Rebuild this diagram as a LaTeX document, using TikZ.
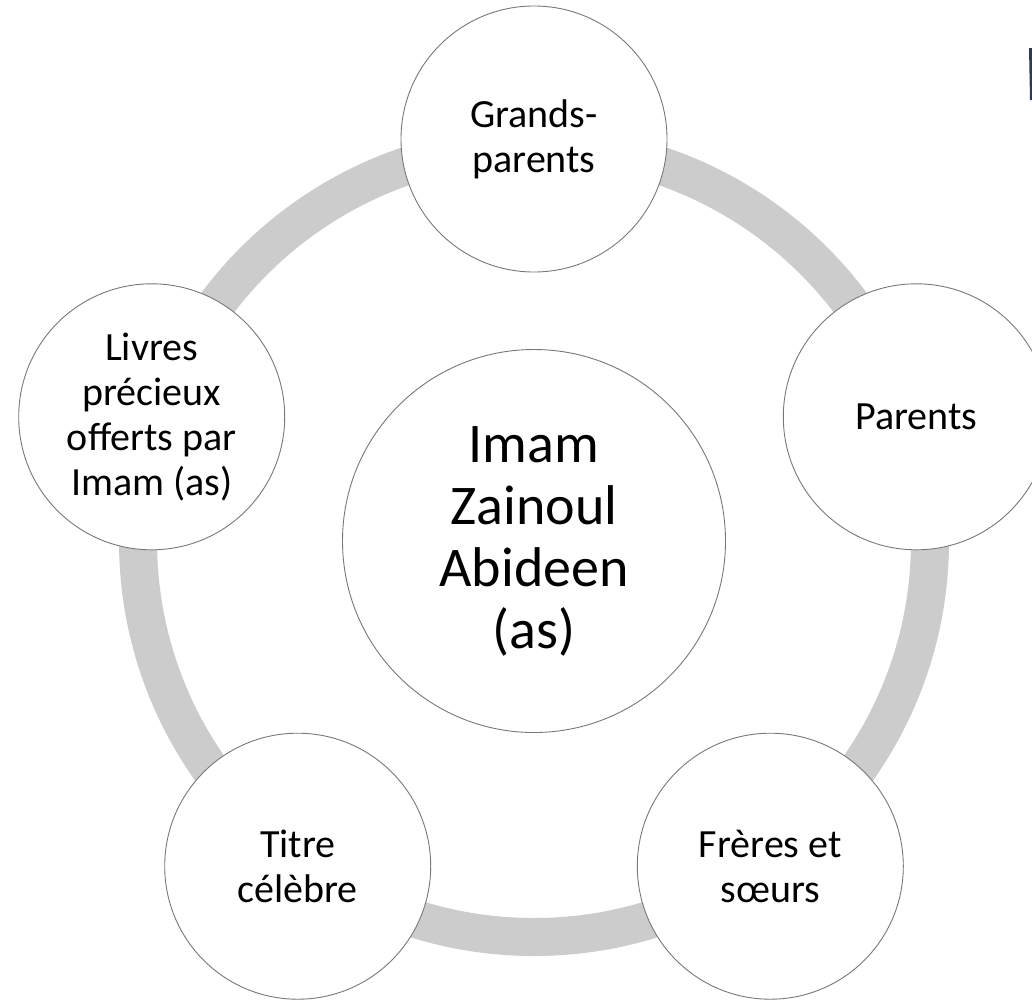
\documentclass[tikz,border=0pt]{standalone}
\usepackage{fontspec}
\setmainfont{Carlito}
\definecolor{ringgray}{RGB}{204,204,204}
\definecolor{edgegray}{RGB}{120,120,120}
\definecolor{slate}{RGB}{46,58,78}
\tikzset{
  ring/.style={draw=ringgray, line width=38pt},
  bubble/.style={circle, draw=edgegray, line width=0.9pt, fill=white, inner sep=0pt,
    minimum size=266pt, align=center, text=black, font=\fontsize{40}{45}\selectfont},
  hub/.style={circle, draw=edgegray, line width=0.9pt, fill=white, inner sep=0pt,
    minimum size=383pt, align=center, text=black, font=\fontsize{56}{62}\selectfont}
}
\begin{document}
\begin{tikzpicture}[x=1pt,y=-1pt]
\useasboundingbox (0,0) rectangle (1032,1002);
\clip (0,0) rectangle (1032,1002);
\fill[white] (0,0) rectangle (1032,1002);
\coordinate (C) at (534,541);
\draw[ring] (C) circle[radius=396pt];
\node[hub] (center) at (C) {Imam\\Zainoul\\Abideen\\(as)};
\node[bubble] (gp) at (534,139) {Grands-\\parents};
\node[bubble] (par) at (916.3,416.8) {Parents};
\node[bubble] (fs) at (770.3,866.2) {Frères et\\sœurs};
\node[bubble] (tc) at (297.7,866.2) {Titre\\célèbre};
\node[bubble] (lp) at (151.7,416.8) {Livres\\précieux\\offerts par\\Imam (as)};
\fill[slate] (1029,48) -- (1032,48) -- (1032,100) -- (1030,100) -- cycle;
\end{tikzpicture}
\end{document}
